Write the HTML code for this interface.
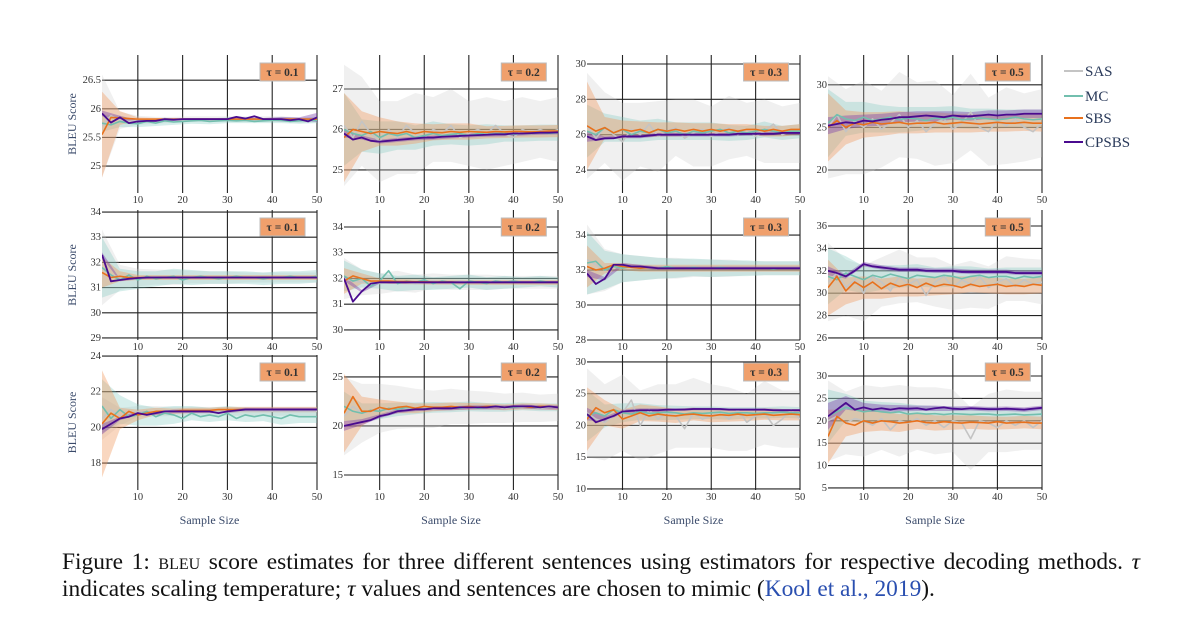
<!DOCTYPE html>
<html><head><meta charset="utf-8">
<style>
html,body{margin:0;padding:0;background:#fff;}
#wrap{position:relative;width:1199px;height:640px;overflow:hidden;}
svg{position:absolute;left:0;top:0;}
.cap{position:absolute;left:62px;width:1078px;font-family:"Liberation Serif",serif;font-size:23.4px;color:#111;white-space:nowrap;}
.sc{font-variant:small-caps;}
.blue{color:#2a4fb0;}
</style></head>
<body>
<div id="wrap">
<svg id="chart" width="1199" height="540" viewBox="0 0 1199 540"></svg>
<div class="cap" style="top:549px;text-align:justify;text-align-last:justify;">Figure 1: <span class="sc">bleu</span> score estimates for three different sentences using estimators for respective decoding methods. <i>τ</i></div>
<div class="cap" style="top:576px;width:auto;">indicates scaling temperature; <i>τ</i> values and sentences are chosen to mimic (<span class="blue">Kool et al., 2019</span>).</div>
</div>
<script>
const XS=[2,4,6,8,10,12,14,16,18,20,22,24,26,28,30,32,34,36,38,40,42,44,46,48,50];
const BX=[2,6,10,14,18,22,26,30,34,38,42,46,50];
const SERIES=["SAS","MC","SBS","CPSBS"];
const TAUS=["0.1","0.2","0.3","0.5"];
const XTICKS=[10,20,30,40,50];

// row 1
const p11_sas=[25.7,25.88,25.8,25.78,25.8,25.82,25.8,25.83,25.81,25.8,25.82,25.81,25.82,25.8,25.82,25.81,25.82,25.8,25.82,25.81,25.82,25.8,25.8,25.82,25.81];
const p11_mc=[25.75,25.72,25.78,25.75,25.74,25.78,25.75,25.79,25.77,25.78,25.79,25.8,25.78,25.79,25.8,25.79,25.8,25.78,25.79,25.8,25.8,25.78,25.79,25.8,25.8];
const p11_sbs=[25.55,25.85,25.84,25.83,25.82,25.82,25.82,25.82,25.82,25.82,25.82,25.82,25.82,25.82,25.82,25.82,25.82,25.82,25.82,25.82,25.82,25.82,25.82,25.82,25.82];
const p11_cps=[25.92,25.76,25.85,25.75,25.78,25.79,25.79,25.82,25.81,25.82,25.82,25.82,25.82,25.82,25.82,25.86,25.83,25.87,25.82,25.82,25.82,25.8,25.82,25.78,25.85];
const p11_sasW=[0.9,0.15,0.08,0.06,0.05,0.05,0.05,0.05,0.05,0.05,0.05,0.05,0.05];
const p11_mcW=[0.15,0.1,0.06,0.05,0.05,0.05,0.05,0.05,0.05,0.04,0.05,0.05,0.05];
const p11_sbsW=[0.75,0.12,0.03,0.02,0.02,0.02,0.02,0.02,0.02,0.02,0.02,0.02,0.02];
const p11_cpsW=[0.05,0.03,0.02,0.02,0.02,0.02,0.02,0.02,0.02,0.02,0.04,0.03,0.08];

const p12_sas=[26.1,25.8,26.2,25.9,25.7,26.0,25.8,26.1,25.9,25.8,26.0,25.9,26.1,25.8,25.9,26.0,25.9,26.1,25.9,25.8,26.0,25.9,26.0,25.9,26.0];
const p12_mc=[26.0,25.9,25.85,25.95,25.8,25.9,25.85,25.9,25.8,25.85,25.9,25.85,25.88,25.9,25.85,25.9,25.88,25.9,25.9,25.88,25.9,25.9,25.92,25.9,25.92];
const p12_sbs=[25.8,26.0,25.95,25.9,25.95,25.92,25.9,25.95,25.9,25.95,25.93,25.92,25.95,25.93,25.95,25.94,25.93,25.95,25.94,25.95,25.95,25.94,25.95,25.96,25.96];
const p12_cps=[25.9,25.75,25.8,25.72,25.7,25.72,25.74,25.76,25.78,25.8,25.8,25.82,25.83,25.84,25.85,25.86,25.87,25.88,25.88,25.9,25.9,25.91,25.92,25.92,25.93];
const p12_sasW=[1.5,1.1,1.0,0.9,1.0,0.8,0.9,0.8,0.9,0.8,0.8,0.7,0.8];
const p12_mcW=[0.9,0.4,0.4,0.35,0.3,0.3,0.25,0.25,0.25,0.2,0.2,0.2,0.2];
const p12_sbsW=[1.1,0.5,0.35,0.3,0.25,0.2,0.2,0.2,0.15,0.15,0.15,0.15,0.15];
const p12_cpsW=[0.1,0.05,0.05,0.05,0.05,0.05,0.05,0.05,0.05,0.05,0.05,0.05,0.05];

const p13_sas=[26.5,25.8,26.4,26.0,25.6,26.3,26.0,26.6,25.9,26.2,26.4,25.8,26.1,26.3,25.9,26.2,26.4,26.0,26.3,25.9,26.2,26.6,26.0,26.2,26.1];
const p13_mc=[26.2,26.0,26.4,26.1,26.3,26.0,26.2,26.1,26.3,26.1,26.2,26.0,26.2,26.1,26.2,26.3,26.1,26.2,26.1,26.2,26.3,26.2,26.1,26.2,26.2];
const p13_sbs=[26.5,26.2,26.4,26.1,26.3,26.2,26.3,26.1,26.3,26.2,26.3,26.2,26.3,26.2,26.3,26.2,26.3,26.2,26.3,26.3,26.2,26.3,26.2,26.3,26.3];
const p13_cps=[25.9,25.7,25.8,25.8,25.9,25.9,25.9,25.95,26.0,26.0,26.0,26.0,26.0,26.0,26.0,26.0,26.0,26.05,26.05,26.05,26.05,26.05,26.1,26.1,26.1];
const p13_sasW=[3,2,2.2,1.8,2,1.6,1.9,1.7,1.8,1.5,1.8,1.6,1.7];
const p13_mcW=[1.5,0.8,0.7,0.6,0.6,0.5,0.5,0.5,0.45,0.4,0.45,0.4,0.4];
const p13_sbsW=[2.5,0.6,0.5,0.45,0.4,0.4,0.35,0.35,0.3,0.3,0.3,0.3,0.3];
const p13_cpsW=[0.3,0.1,0.1,0.1,0.1,0.1,0.1,0.1,0.1,0.1,0.1,0.1,0.1];

const p14_sas=[25,26.5,24.5,25.8,25,26,24.8,25.5,26.5,25,25.8,24.5,25.5,26,24.8,25.5,26.8,25,24.5,25.8,25.2,26,25,24.5,25.5];
const p14_mc=[25.5,26.5,26,25.8,26.2,25.8,26,26.2,25.9,26.1,26,25.8,26.1,26,26.2,25.9,26,26.1,26,25.9,26,26.2,26,25.9,26];
const p14_sbs=[25,25.8,25,25.5,25.3,25.6,25.4,25.5,25.6,25.4,25.5,25.5,25.6,25.4,25.5,25.6,25.5,25.4,25.5,25.6,25.5,25.5,25.6,25.5,25.5];
const p14_cps=[25.2,25.4,25.6,25.5,25.8,25.7,25.9,26,26.2,26.2,26.3,26.4,26.3,26.2,26.4,26.3,26.3,26.4,26.5,26.4,26.5,26.5,26.6,26.6,26.6];
const p14_sasW=[6,5,5.5,4.5,5,4.5,5,4,4.5,4,4.5,4,4];
const p14_mcW=[4,2,1.8,1.6,1.5,1.4,1.3,1.3,1.2,1.2,1.1,1.1,1.1];
const p14_sbsW=[4,2,1.5,1.4,1.3,1.2,1.2,1.1,1.1,1,1,1,1];
const p14_cpsW=[1,0.8,0.7,0.7,0.6,0.6,0.6,0.5,0.5,0.5,0.5,0.5,0.5];

// row 2
const p21_sas=[31.8,31.5,31.4,31.45,31.4,31.4,31.42,31.4,31.4,31.4,31.42,31.4,31.4,31.4,31.4,31.4,31.4,31.42,31.4,31.4,31.4,31.4,31.4,31.4,31.4];
const p21_mc=[31.8,31.5,31.3,31.5,31.3,31.45,31.35,31.4,31.45,31.3,31.4,31.45,31.4,31.35,31.4,31.45,31.4,31.4,31.35,31.4,31.4,31.45,31.4,31.4,31.45];
const p21_sbs=[31.6,31.4,31.45,31.4,31.4,31.4,31.4,31.4,31.4,31.4,31.4,31.4,31.4,31.4,31.4,31.4,31.4,31.4,31.4,31.4,31.4,31.4,31.4,31.4,31.4];
const p21_cps=[32.3,31.25,31.3,31.35,31.38,31.4,31.4,31.4,31.4,31.4,31.4,31.4,31.4,31.4,31.4,31.4,31.4,31.4,31.4,31.4,31.4,31.4,31.4,31.4,31.4];
const p21_sasW=[1.5,0.5,0.35,0.3,0.3,0.25,0.25,0.25,0.2,0.2,0.2,0.2,0.2];
const p21_mcW=[1.2,0.45,0.35,0.3,0.3,0.3,0.25,0.25,0.25,0.25,0.25,0.25,0.25];
const p21_sbsW=[0.6,0.2,0.1,0.1,0.1,0.1,0.1,0.1,0.1,0.1,0.1,0.1,0.1];
const p21_cpsW=[0.1,0.05,0.05,0.05,0.05,0.05,0.05,0.05,0.05,0.05,0.05,0.05,0.05];

const p22_sas=[32,31.9,31.85,31.9,31.8,31.85,31.9,31.85,31.8,31.85,31.9,31.85,31.85,31.9,31.85,31.85,31.85,31.9,31.85,31.85,31.85,31.85,31.85,31.85,31.85];
const p22_mc=[32.1,31.9,32.0,31.7,31.9,32.3,31.8,31.9,31.85,31.95,31.8,31.9,31.85,31.6,31.9,31.85,31.8,31.9,31.85,31.9,31.85,31.85,31.9,31.85,31.85];
const p22_sbs=[31.9,32.1,32.0,31.9,31.9,31.9,31.88,31.88,31.87,31.87,31.86,31.86,31.86,31.85,31.85,31.85,31.85,31.85,31.85,31.85,31.85,31.85,31.85,31.85,31.85];
const p22_cps=[32.0,31.1,31.5,31.8,31.85,31.85,31.85,31.85,31.85,31.85,31.85,31.85,31.85,31.85,31.85,31.85,31.85,31.85,31.85,31.85,31.85,31.85,31.85,31.85,31.85];
const p22_sasW=[0.8,0.5,0.4,0.4,0.35,0.3,0.3,0.3,0.3,0.25,0.25,0.25,0.25];
const p22_mcW=[0.6,0.35,0.3,0.3,0.3,0.25,0.25,0.25,0.25,0.25,0.2,0.2,0.2];
const p22_sbsW=[0.5,0.2,0.1,0.1,0.1,0.1,0.1,0.1,0.1,0.1,0.1,0.1,0.1];
const p22_cpsW=[0.1,0.05,0.05,0.05,0.05,0.05,0.05,0.05,0.05,0.05,0.05,0.05,0.05];

const p23_sas=[32.6,32.3,32.0,32.2,32.1,32.2,32.1,32.15,32.1,32.1,32.1,32.1,32.1,32.1,32.1,32.1,32.1,32.1,32.1,32.1,32.1,32.1,32.1,32.1,32.1];
const p23_mc=[32.4,32.5,32.0,32.2,32.1,32.2,32.1,32.15,32.1,32.2,32.1,32.1,32.15,32.1,32.1,32.15,32.1,32.1,32.1,32.1,32.1,32.05,32.1,32.1,32.1];
const p23_sbs=[32.2,32.0,32.1,32.3,32.2,32.15,32.1,32.15,32.1,32.1,32.1,32.1,32.1,32.1,32.1,32.1,32.1,32.1,32.1,32.1,32.1,32.1,32.1,32.1,32.1];
const p23_cps=[31.8,31.2,31.5,32.3,32.3,32.2,32.2,32.15,32.1,32.1,32.1,32.1,32.1,32.1,32.1,32.1,32.1,32.1,32.1,32.1,32.1,32.1,32.1,32.1,32.1];
const p23_sasW=[2,1.2,0.8,0.7,0.6,0.6,0.5,0.5,0.5,0.4,0.4,0.4,0.4];
const p23_mcW=[1.8,1.1,0.8,0.7,0.6,0.55,0.5,0.5,0.45,0.45,0.4,0.4,0.4];
const p23_sbsW=[1.2,0.3,0.2,0.2,0.2,0.2,0.2,0.2,0.2,0.2,0.2,0.2,0.2];
const p23_cpsW=[0.2,0.1,0.1,0.1,0.1,0.1,0.1,0.1,0.1,0.1,0.1,0.1,0.1];

const p24_sas=[31,31.8,30.5,31.2,30,31.5,31,30.2,31.5,30.8,31.2,29.8,31,31.5,30.5,31.2,30.8,31.5,30.5,31,31.3,30.6,31.2,30.8,31];
const p24_mc=[31.5,31.2,31.8,31.5,31.2,31.6,31.4,31.7,31.5,31.3,31.6,31.5,31.4,31.6,31.5,31.3,31.5,31.6,31.4,31.5,31.5,31.3,31.5,31.4,31.5];
const p24_sbs=[30.5,31.5,30.2,31,30.5,31,30.4,30.9,30.6,30.8,30.5,30.9,30.6,30.8,30.7,30.5,30.8,30.6,30.7,30.8,30.6,30.7,30.6,30.8,30.7];
const p24_cps=[32,31.8,31.5,32,32.6,32.4,32.3,32.2,32.1,32.1,32.1,32.0,32.0,32.0,32.0,31.9,31.9,31.9,31.9,31.9,31.9,31.8,31.8,31.8,31.8];
const p24_sasW=[3.5,2.5,2.5,2.2,2.4,2,2.2,2,2.1,1.9,2,1.9,2];
const p24_mcW=[2.5,1.5,1.2,1.1,1,1,0.9,0.9,0.9,0.8,0.8,0.8,0.8];
const p24_sbsW=[2.5,1.2,1,0.9,0.9,0.8,0.8,0.8,0.7,0.7,0.7,0.7,0.7];
const p24_cpsW=[0.4,0.2,0.2,0.2,0.2,0.2,0.2,0.2,0.2,0.2,0.2,0.2,0.2];

// row 3
const p31_sas=[20.5,21,20.6,20.8,20.9,20.8,20.9,20.85,20.9,20.9,20.9,20.9,20.9,20.9,20.9,20.9,20.9,20.9,20.9,20.9,20.9,20.9,20.9,20.9,20.9];
const p31_mc=[21.2,20.5,21,20.6,20.7,20.9,20.6,20.8,20.7,20.5,20.8,20.6,20.7,20.6,20.8,20.5,20.7,20.6,20.7,20.6,20.5,20.7,20.6,20.6,20.6];
const p31_sbs=[20.2,20.8,20.5,20.9,20.7,20.8,20.9,20.9,20.9,20.95,20.95,20.95,20.95,21,21,21,21,21,21,21,21,21,21,21,21];
const p31_cps=[19.9,20.2,20.5,20.6,20.8,20.7,20.8,20.9,20.9,20.9,20.9,20.9,20.9,20.8,20.9,20.95,21,21,21,21,21,21,21,21,21];
const p31_sasW=[1.2,0.5,0.3,0.3,0.25,0.25,0.25,0.25,0.25,0.25,0.25,0.25,0.25];
const p31_mcW=[1.5,0.8,0.6,0.5,0.5,0.4,0.4,0.4,0.4,0.35,0.35,0.35,0.35];
const p31_sbsW=[3,0.6,0.3,0.2,0.15,0.15,0.15,0.15,0.15,0.15,0.15,0.15,0.15];
const p31_cpsW=[0.3,0.1,0.1,0.1,0.1,0.1,0.1,0.1,0.1,0.1,0.1,0.1,0.1];

const p32_sas=[21,22,21.3,21.6,21.8,21.5,21.9,21.7,21.8,21.9,21.7,21.8,22,21.8,21.9,21.8,21.9,22,21.8,21.9,21.9,22,21.8,21.9,21.9];
const p32_mc=[22,21.5,21.3,21.6,21.5,21.8,21.7,21.9,21.8,21.7,21.9,21.8,21.9,21.8,22,21.8,21.9,22,21.9,21.9,22,21.9,21.9,22,21.9];
const p32_sbs=[21.3,23,21.5,21.5,21.9,21.7,21.9,22,21.8,22,21.9,21.9,22,21.9,22,21.9,22,22,21.9,22,22,21.9,22,22,21.9];
const p32_cps=[20,20.2,20.4,20.6,21,21.2,21.5,21.6,21.7,21.7,21.8,21.8,21.8,21.9,21.9,21.9,21.9,22,21.9,22,22,22,21.9,22,21.9];
const p32_sasW=[4,3,2.5,2.2,2,1.9,1.8,1.7,1.6,1.5,1.5,1.4,1.4];
const p32_mcW=[1.5,1,0.8,0.7,0.6,0.55,0.5,0.5,0.45,0.45,0.4,0.4,0.4];
const p32_sbsW=[4,1.5,0.8,0.6,0.5,0.4,0.4,0.35,0.3,0.3,0.3,0.3,0.3];
const p32_cpsW=[0.5,0.3,0.2,0.2,0.2,0.2,0.2,0.2,0.2,0.2,0.2,0.2,0.2];

const p33_sas=[22,21,20.5,21.5,22,24,20,22.5,21,22,21.5,19.5,22,21,21.5,22,21,22.5,20.5,21.5,22,20,21,22.5,21];
const p33_mc=[21.5,22,21.5,22.5,22,21.8,22.2,21.9,22,22.1,22,21.8,22,21.9,22,22.1,21.9,22,22,21.9,22,22,22.1,22,22];
const p33_sbs=[21,22.8,22,22.5,21,21.5,22,21.5,21.8,21.6,21.5,21.7,21.8,21.6,21.5,21.7,21.6,21.8,21.6,21.7,21.8,21.6,21.7,21.8,21.7];
const p33_cps=[21.8,20.5,21,21.5,22.2,22.3,22.4,22.4,22.4,22.5,22.5,22.5,22.6,22.6,22.6,22.6,22.5,22.5,22.5,22.5,22.5,22.4,22.4,22.4,22.4];
const p33_sasW=[7,6,6,5.5,5.5,5,5.5,5,5,4.5,5,4.5,4.5];
const p33_mcW=[4,1.8,1.5,1.3,1.2,1.1,1,1,1,0.9,0.9,0.9,0.9];
const p33_sbsW=[5,2,1.5,1.3,1.2,1.1,1,1,1,0.9,0.9,0.9,0.9];
const p33_cpsW=[1,0.4,0.3,0.3,0.3,0.2,0.2,0.2,0.2,0.2,0.2,0.2,0.2];

const p34_sas=[20,21,19.5,20.5,20,19,20.5,18,20,19.5,20.5,19,20,18.5,20,19.5,16,20,19.5,18.5,20,19,20,18.5,20];
const p34_mc=[21,22,23,22.5,22,22.3,22,21.8,22,21.5,21.7,21.5,21.6,21.4,21.6,21.5,21.4,21.5,21.5,21.3,21.4,21.5,21.3,21.4,21.5];
const p34_sbs=[16.5,21,19.5,19,20,19.5,20,19.8,19.5,19.7,20,19.6,19.5,19.8,19.6,19.5,19.7,19.6,19.5,19.8,19.5,19.6,19.7,19.5,19.5];
const p34_cps=[21,22.5,24,22.5,23,22.5,22.8,22.5,22.8,22.7,22.8,22.5,22.8,23,22.7,22.6,22.8,22.7,22.6,22.6,22.7,22.6,22.5,22.7,22.9];
const p34_sasW=[9,7,8,7,8,7,7.5,7,7,6.5,7,6.5,6.5];
const p34_mcW=[6,3,2.5,2.2,2,1.8,1.7,1.6,1.5,1.5,1.4,1.4,1.4];
const p34_sbsW=[6,3,2.5,2.2,2,1.8,1.7,1.6,1.5,1.5,1.4,1.4,1.4];
const p34_cpsW=[3,1.5,1,0.8,0.7,0.6,0.6,0.5,0.5,0.5,0.5,0.5,0.5];

const YTICKS=[
 [[25,25.5,26,26.5],[25,26,27],[24,26,28,30],[20,25,30]],
 [[29,30,31,32,33,34],[30,31,32,33,34],[28,30,32,34],[26,28,30,32,34,36]],
 [[18,20,22,24],[15,20,25],[10,15,20,25,30],[5,10,15,20,25,30]]
];
const YDOM=[
 [[24.53,26.94],[24.43,27.84],[22.7,30.51],[17.3,33.5]],
 [[28.92,34.08],[29.61,34.66],[28,35.43],[25.82,37.43]],
 [[16.49,24.06],[13.47,27.24],[9.84,31.1],[4.55,34.69]]
];
const MEANS=[
 [[p11_sas,p11_mc,p11_sbs,p11_cps],[p12_sas,p12_mc,p12_sbs,p12_cps],[p13_sas,p13_mc,p13_sbs,p13_cps],[p14_sas,p14_mc,p14_sbs,p14_cps]],
 [[p21_sas,p21_mc,p21_sbs,p21_cps],[p22_sas,p22_mc,p22_sbs,p22_cps],[p23_sas,p23_mc,p23_sbs,p23_cps],[p24_sas,p24_mc,p24_sbs,p24_cps]],
 [[p31_sas,p31_mc,p31_sbs,p31_cps],[p32_sas,p32_mc,p32_sbs,p32_cps],[p33_sas,p33_mc,p33_sbs,p33_cps],[p34_sas,p34_mc,p34_sbs,p34_cps]]
];
const WIDTHS=[
 [[p11_sasW,p11_mcW,p11_sbsW,p11_cpsW],[p12_sasW,p12_mcW,p12_sbsW,p12_cpsW],[p13_sasW,p13_mcW,p13_sbsW,p13_cpsW],[p14_sasW,p14_mcW,p14_sbsW,p14_cpsW]],
 [[p21_sasW,p21_mcW,p21_sbsW,p21_cpsW],[p22_sasW,p22_mcW,p22_sbsW,p22_cpsW],[p23_sasW,p23_mcW,p23_sbsW,p23_cpsW],[p24_sasW,p24_mcW,p24_sbsW,p24_cpsW]],
 [[p31_sasW,p31_mcW,p31_sbsW,p31_cpsW],[p32_sasW,p32_mcW,p32_sbsW,p32_cpsW],[p33_sasW,p33_mcW,p33_sbsW,p33_cpsW],[p34_sasW,p34_mcW,p34_sbsW,p34_cpsW]]
];

const COLX=[[102,317],[344,558],[587,800],[828,1042]];
const ROWY=[[193,55],[340,210],[490,355]];
const LINEC=["#c4c4c4","#72bfae","#e8711c","#4a0b8f"];
const BANDC=["rgba(200,200,200,0.28)","rgba(120,200,190,0.30)","rgba(238,150,90,0.38)","rgba(120,60,170,0.40)"];
const NS="http://www.w3.org/2000/svg";
const svg=document.getElementById('chart');
function mk(tag,attrs,parent){const e=document.createElementNS(NS,tag);for(const k in attrs)e.setAttribute(k,attrs[k]);(parent||svg).appendChild(e);return e;}
const FONT='"Liberation Serif",serif';
const defs=mk('defs',{});

for(let r=0;r<3;r++){for(let c=0;c<4;c++){
  const [x0,x1]=COLX[c],[yb,yt]=ROWY[r],[d0,d1]=YDOM[r][c];
  const sx=v=>x0+(v-2)/48*(x1-x0);
  const sy=v=>yb-(v-d0)/(d1-d0)*(yb-yt);
  const g=mk('g',{});
  
  
  const cp=mk('clipPath',{id:'cp'+r+c},defs);
  mk('rect',{x:x0,y:yt-8,width:x1-x0,height:yb-yt+16},cp);
  YTICKS[r][c].forEach(t=>{
    const y=sy(t);
    const ln=mk('line',{x1:x0,x2:x1,y1:y,y2:y,stroke:'#222','stroke-width':1.1},g);
    
    
    const tx=mk('text',{x:x0-1,y:y+3,'text-anchor':'end','font-size':10.5,'font-family':FONT,fill:'#333'},g);
    
    
    tx.textContent=t;
  });
  XTICKS.forEach(t=>{
    const x=sx(t);
    const ln=mk('line',{x1:x,x2:x,y1:yt,y2:yb,stroke:'#222','stroke-width':1.1},g);
    
    
    const tx=mk('text',{x:x,y:yb+10,'text-anchor':'middle','font-size':10.5,'font-family':FONT,fill:'#333'},g);
    
    
    tx.textContent=t;
  });
  const pg=mk('g',{'clip-path':'url(#cp'+r+c+')'},g);
  for(let s=0;s<4;s++){
    const m=MEANS[r][c][s],w=WIDTHS[r][c][s];
    const up=[],lo=[];
    BX.forEach((bx,i)=>{const mv=m[XS.indexOf(bx)];up.push(sx(bx)+','+sy(mv+w[i]));lo.unshift(sx(bx)+','+sy(mv-w[i]));});
    const p=mk('polygon',{points:up.concat(lo).join(' '),fill:BANDC[s],stroke:'none'},pg);
    
    
  }
  for(let s=0;s<4;s++){
    const m=MEANS[r][c][s];
    const pts=XS.map((x,i)=>sx(x)+','+sy(m[i])).join(' ');
    const p=mk('polyline',{points:pts,fill:'none',stroke:LINEC[s],'stroke-width':s==3?1.8:1.6,'stroke-linejoin':'round'},pg);
    
    
  }
  const bx=x0+(x1-x0)*0.735, by=yt+8;
  const b=mk('g',{},g);
  
  
  mk('rect',{x:bx,y:by,width:45,height:18,fill:'#f0a06c',stroke:'#bbb','stroke-width':1},b);
  const bt=mk('text',{x:bx+22.5,y:by+13,'text-anchor':'middle','font-size':11.5,'font-weight':'bold','font-family':FONT,fill:'#333'},b);
  bt.textContent='τ = '+TAUS[c];
  if(c==0){
    const yl=mk('text',{x:0,y:0,'text-anchor':'middle','font-size':12,'font-family':FONT,fill:'#3a4a6a',transform:'translate(76,'+((yt+yb)/2)+') rotate(-90)'});
    
    
    yl.textContent='BLEU Score';
  }
  if(r==2){
    const xl=mk('text',{x:(x0+x1)/2,y:524,'text-anchor':'middle','font-size':12,'font-family':FONT,fill:'#3a4a6a'});
    
    
    xl.textContent='Sample Size';
  }
}}
const lg=mk('g',{});


[71,96,118,142].forEach((y,s)=>{
  const e=mk('g',{},lg);
  
  
  mk('line',{x1:1064,x2:1083,y1:y,y2:y,stroke:LINEC[s],'stroke-width':2},e);
  const t=mk('text',{x:1085,y:y+5,'font-size':15,'font-family':FONT,fill:'#2a3a5a'},e);
  t.textContent=SERIES[s];
});
</script>
</body></html>
